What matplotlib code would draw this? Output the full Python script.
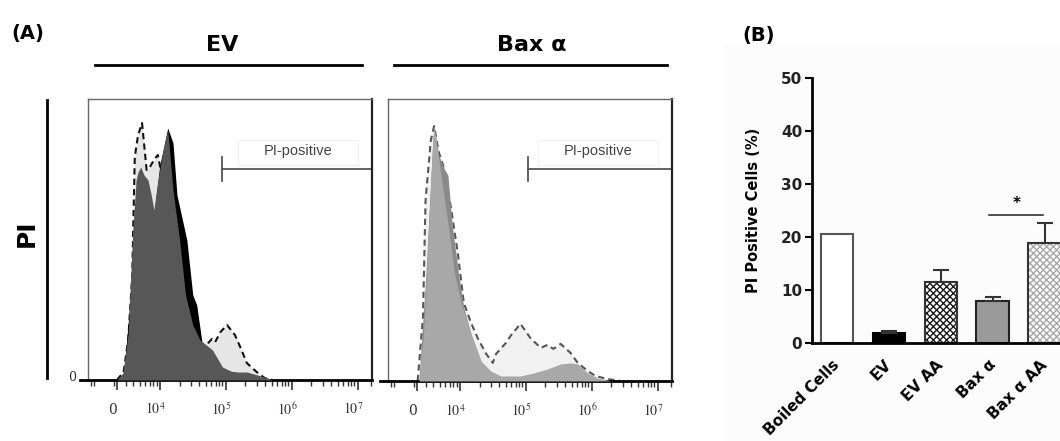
import matplotlib
matplotlib.use('Agg')
import matplotlib.pyplot as plt
from matplotlib.lines import Line2D
from matplotlib.patches import Rectangle
from matplotlib.transforms import ScaledTranslation

plt.rcParams['mathtext.fontset'] = 'stix'
plt.rcParams['hatch.linewidth'] = 1.0

# ---- panel A: PI histograms (x in log10 fluorescence, y in events) ----
ev_dash_x = [3.35, 3.45, 3.52, 3.58, 3.62, 3.67, 3.73, 3.77, 3.80, 3.85, 3.91, 3.97, 4.03,
             4.10, 4.23, 4.38, 4.53, 4.61, 4.72, 4.79, 4.84, 4.92, 5.02, 5.14, 5.24, 5.32,
             5.47, 5.59, 5.71]
ev_dash_y = [0, 8, 40, 103, 223, 245, 257, 230, 210, 213, 220, 225, 205,
             150, 100, 62, 40, 36, 36, 41, 38, 48, 55, 45, 30, 17,
             8, 2, 0]

ev_black_x = [3.35, 3.45, 3.55, 3.65, 3.75, 3.90, 4.00, 4.12, 4.20, 4.26, 4.41, 4.50, 4.56,
              4.65, 4.76, 4.95, 5.32, 5.64]
ev_black_y = [0, 5, 80, 190, 200, 160, 215, 252, 237, 185, 140, 85, 75,
              33, 28, 10, 6, 0]

ev_gray_x = [3.35, 3.44, 3.52, 3.59, 3.64, 3.67, 3.71, 3.76, 3.82, 3.87, 3.91, 3.96, 4.05,
             4.12, 4.20, 4.30, 4.39, 4.50, 4.61, 4.80, 4.95, 5.11, 5.32, 5.48, 5.64, 5.71]
ev_gray_y = [0, 7, 47, 150, 200, 208, 213, 205, 200, 185, 170, 195, 230,
             250, 190, 140, 85, 55, 40, 30, 13, 8, 8, 5, 2, 0]

bax_dash_x = [3.36, 3.44, 3.48, 3.56, 3.61, 3.68, 3.76, 3.86, 3.97, 4.06, 4.17, 4.27, 4.39,
              4.50, 4.55, 4.70, 4.77, 4.92, 5.08, 5.23, 5.33, 5.42, 5.53, 5.68, 5.79, 5.94,
              6.06, 6.24, 6.44]
bax_dash_y = [0, 63, 180, 240, 254, 228, 212, 175, 127, 78, 58, 43, 28,
              18, 27, 38, 45, 57, 42, 33, 36, 32, 37, 28, 18, 10,
              5, 2, 0]

bax_dark_x = [3.38, 3.48, 3.59, 3.61, 3.68, 3.76, 3.82, 3.88, 3.98, 4.06, 4.17, 4.32]
bax_dark_y = [0, 100, 240, 253, 225, 212, 205, 157, 107, 73, 47, 20]

bax_mid_x = [3.38, 3.45, 3.52, 3.59, 3.61, 3.71, 3.82, 3.92, 4.02, 4.17, 4.32, 4.47, 4.62,
             4.92, 5.12, 5.33, 5.53, 5.68, 5.79, 5.94, 6.09, 6.29]
bax_mid_y = [0, 47, 147, 240, 253, 207, 157, 107, 78, 47, 20, 10, 5,
             5, 8, 12, 17, 18, 17, 8, 3, 0]

tick_pos = [3.35, 4, 5, 6, 7]
tick_text = ['0', '$10^4$', '$10^5$', '$10^6$', '$10^7$']
minor_pos = [2.95, 3.0, 3.3, 3.48, 3.6, 3.7, 3.78, 3.85, 3.9, 3.95,
             4.3, 4.48, 4.6, 4.7, 4.78, 4.85, 4.9, 4.95,
             5.3, 5.48, 5.6, 5.7, 5.78, 5.85, 5.9, 5.95,
             6.3, 6.48, 6.6, 6.7, 6.78, 6.85, 6.9, 6.95, 7.2]
ev_gate = 4.95
bax_gate = 5.03

# ---- panel B: PI positive cells ----
groups = ['Boiled Cells', 'EV', 'EV AA', 'Bax α', 'Bax α AA']
pi_pos = [20.6, 1.95, 11.6, 8.0, 18.9]
pi_sem = [0, 0.35, 2.1, 0.7, 3.7]

W, H = 1060, 441


def box(left, top, right, bottom):
    return [left / W, 1 - bottom / H, (right - left) / W, (bottom - top) / H]


fig = plt.figure(figsize=(W / 100, H / 100), dpi=100)
fig.add_artist(Rectangle((723 / W, 0), 1, 1 - 44 / H, transform=fig.transFigure,
                         facecolor='#fcfcfc', edgecolor='none', zorder=0))


def flow_axes(ax, gate):
    ax.set_xlim(2.91, 7.22)
    ax.set_ylim(0, 281)
    for s in ['top', 'left']:
        ax.spines[s].set_color('#666')
        ax.spines[s].set_linewidth(1)
    ax.spines['right'].set_color('#222')
    ax.spines['right'].set_linewidth(1.6)
    ax.spines['bottom'].set_linewidth(2)
    ax.set_yticks([])
    ax.set_xticks(tick_pos)
    ax.set_xticklabels([])
    ax.set_xticks(minor_pos, minor=True)
    ax.tick_params(axis='x', which='major', length=7, width=1.2, color='#333')
    ax.tick_params(axis='x', which='minor', length=4, width=1, color='#333')
    off = ax.get_xaxis_transform() + ScaledTranslation(-0.045, 0, fig.dpi_scale_trans)
    for p, t in zip(tick_pos, tick_text):
        ax.text(p, -0.105, t, transform=off, ha='center', va='center',
                fontsize=10, color='#333', family='serif')
    ax.plot([2.79, 2.91], [0, 0], color='k', lw=2, clip_on=False)
    # gate bar
    ax.plot([gate, 7.22], [211, 211], color='#555', lw=1.3)
    ax.plot([gate, gate], [199, 223], color='#555', lw=1.3)
    ax.add_patch(Rectangle((5.18, 215), 1.83, 25, facecolor='none',
                           edgecolor='#f0f0f0', lw=0.8))
    ax.text((5.18 + 7.01) / 2, 229, 'PI-positive', ha='center', va='center',
            fontsize=10.5, color='#444', family='Liberation Sans')


ax1 = fig.add_axes(box(88, 99, 372, 380))
ax1.fill_between(ev_dash_x, ev_dash_y, color='#e6e6e6', lw=0, zorder=1)
ax1.plot(ev_dash_x, ev_dash_y, color='#111', lw=1.5, ls=(0, (3, 2)), zorder=1.5)
ax1.fill_between(ev_black_x, ev_black_y, color='#000000', lw=0, zorder=2)
ax1.fill_between(ev_gray_x, ev_gray_y, color='#575757', lw=0, zorder=3)
flow_axes(ax1, ev_gate)
ax1.text(-0.056, 0.01, '0', transform=ax1.transAxes, ha='center', va='center',
         fontsize=9, color='#333', family='serif')

ax2 = fig.add_axes(box(388, 99, 672, 381))
ax2.fill_between(bax_dash_x, bax_dash_y, color='#f1f1f1', lw=0, zorder=1)
ax2.plot(bax_dash_x, bax_dash_y, color='#555', lw=1.5, ls=(0, (3, 2)), zorder=1.5)
ax2.fill_between(bax_dark_x, bax_dark_y, color='#8a8a8a', lw=0, zorder=2)
ax2.fill_between(bax_mid_x, bax_mid_y, color='#a8a8a8', lw=0, zorder=3)
flow_axes(ax2, bax_gate)

# figure annotations for panel A
fig.text(28 / W, 1 - 33 / H, '(A)', fontsize=14, fontweight='bold', ha='center', va='center')
fig.text(222 / W, 1 - 45 / H, 'EV', fontsize=16, fontweight='bold', ha='center', va='center')
fig.text(532 / W, 1 - 45 / H, 'Bax α', fontsize=16, fontweight='bold', ha='center', va='center')
fig.add_artist(Line2D([95 / W, 362 / W], [1 - 65 / H] * 2, color='k', lw=2))
fig.add_artist(Line2D([394 / W, 667 / W], [1 - 65 / H] * 2, color='k', lw=2))
fig.text(27 / W, 1 - 233 / H, 'PI', fontsize=18, fontweight='bold', rotation=90,
         ha='center', va='center')
fig.add_artist(Line2D([47 / W] * 2, [1 - 100 / H, 1 - 378 / H], color='k', lw=2))
fig.text(759 / W, 1 - 35 / H, '(B)', fontsize=14, fontweight='bold', ha='center', va='center')

# ---- panel B bars ----
ax3 = fig.add_axes(box(812, 78, 1076, 343))
ax3.set_facecolor('none')
xs = list(range(len(groups)))
faces = ['white', 'black', 'white', '#9a9a9a', 'white']
hatch_col = ['#555', 'black', '#1a1a1a', '#222', '#a8a8a8']
hatches = [None, None, 'xxxxx', None, 'xxxxx']
bw = 0.63
for x, v, fc, hc, hh in zip(xs, pi_pos, faces, hatch_col, hatches):
    if hh:
        ax3.bar(x, v, bw, color=fc, edgecolor=hc, hatch=hh, lw=0)
        ax3.bar(x, v, bw, fill=False, edgecolor='#333', lw=1.5)
    else:
        ax3.bar(x, v, bw, color=fc, edgecolor=hc, lw=1.5)
ax3.errorbar(xs[1:], pi_pos[1:], yerr=[[0] * 4, pi_sem[1:]], fmt='none',
             ecolor='#333', elinewidth=1.5, capsize=5.5, capthick=1.5)
ax3.plot([2.93, 3.97], [24.2, 24.2], color='#333', lw=1.2)
ax3.text(3.45, 26.3, '*', ha='center', va='center', fontsize=11, fontweight='bold')

ax3.set_xlim(-0.48, 4.6)
ax3.set_ylim(0, 50)
ax3.set_yticks([0, 10, 20, 30, 40, 50])
ax3.spines['top'].set_visible(False)
ax3.spines['right'].set_visible(False)
ax3.spines['left'].set_linewidth(2)
ax3.spines['bottom'].set_linewidth(2)
ax3.tick_params(axis='y', length=5, width=1.5, labelsize=11, pad=2)
for lab in ax3.get_yticklabels():
    lab.set_fontweight('bold')
    lab.set_color('#222')
ax3.set_xticks(xs)
ax3.set_xticklabels(groups, rotation=45, ha='right', rotation_mode='anchor',
                    fontsize=11, fontweight='bold')
ax3.tick_params(axis='x', length=0, pad=6)
shift = ScaledTranslation(-0.05, -0.06, fig.dpi_scale_trans)
for lab in ax3.get_xticklabels():
    lab.set_transform(lab.get_transform() + shift)
ax3.set_ylabel('PI Positive Cells (%)', fontsize=10.5, fontweight='bold', labelpad=14)

fig.savefig('out.png', dpi=100)
